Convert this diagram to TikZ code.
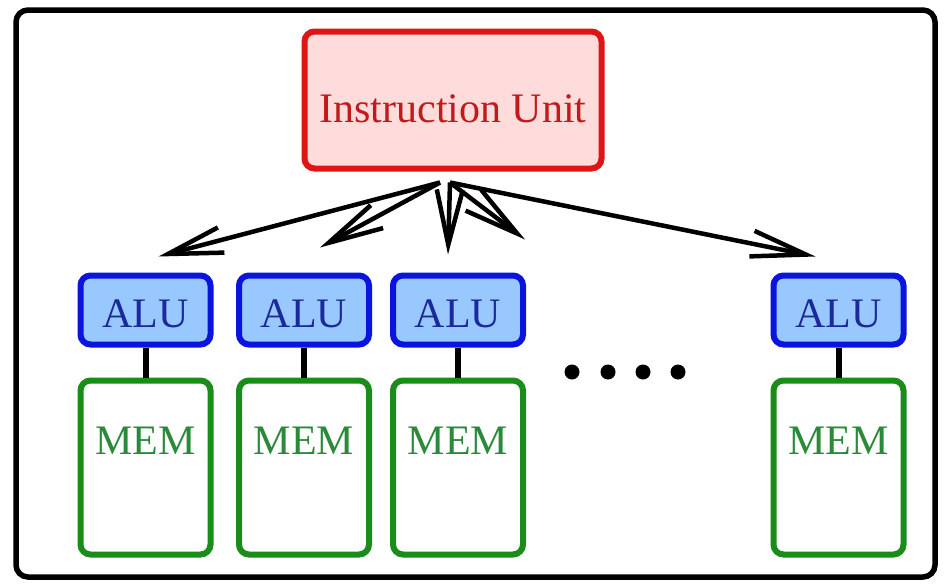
\documentclass[tikz,border=0pt]{standalone}
\usepackage{fontspec}
\setmainfont{Liberation Serif}
\usetikzlibrary{arrows.meta,calc}
\definecolor{iured}{HTML}{DD1515}
\definecolor{iufill}{HTML}{FFDCDC}
\definecolor{iutext}{HTML}{C01A1A}
\definecolor{alublue}{HTML}{0A14DC}
\definecolor{alufill}{HTML}{99C8FF}
\definecolor{alutext}{HTML}{1A2A9A}
\definecolor{memgreen}{HTML}{1A8C1A}
\definecolor{memtext}{HTML}{2A8A3A}
\begin{document}
\begin{tikzpicture}[x=1pt,y=-1pt,
  box/.style={draw, line width=6pt, rounded corners=10pt, inner sep=0pt,
    font=\fontsize{42}{42}\selectfont},
  iubox/.style={box, draw=iured, fill=iufill, text=iutext,
    minimum width=297pt, minimum height=137pt},
  alubox/.style={box, draw=alublue, fill=alufill, text=alutext,
    minimum width=130pt, minimum height=69pt},
  membox/.style={box, draw=memgreen, fill=white, text=memtext,
    minimum width=130pt, minimum height=174pt},
  link/.style={line width=6pt, black},
  bcast/.style={line width=4.5pt, black, -{Straight Barb[length=55pt,width=26pt]}},
  dot/.style={black},
]
\useasboundingbox (0,0) rectangle (946,584);
\fill[white] (0,0) rectangle (946,584);
\draw[line width=5.5pt, rounded corners=12pt] (16,10) rectangle (935,577);

\node[iubox] (iu) at (453,100) {\raisebox{-22pt}[0pt][0pt]{Instruction Unit}};

\node[alubox] (alu1) at (145.5,310) {\raisebox{-17pt}[0pt][0pt]{ALU}};
\node[alubox] (alu2) at (304,310) {\raisebox{-17pt}[0pt][0pt]{ALU}};
\node[alubox] (alu3) at (458,310) {\raisebox{-17pt}[0pt][0pt]{ALU}};
\node[alubox] (alu4) at (838.5,310) {\raisebox{-17pt}[0pt][0pt]{ALU}};

\node[membox] (mem1) at (145.5,467.5) {\raisebox{13pt}[0pt][0pt]{MEM}};
\node[membox] (mem2) at (304,467.5) {\raisebox{13pt}[0pt][0pt]{MEM}};
\node[membox] (mem3) at (458,467.5) {\raisebox{13pt}[0pt][0pt]{MEM}};
\node[membox] (mem4) at (838.5,467.5) {\raisebox{13pt}[0pt][0pt]{MEM}};

\foreach \i in {1,2,3,4}{
  \draw[link] (alu\i.south) -- (mem\i.north);
}

\coordinate (sL) at ($(iu.south)+(-13,11)$);
\coordinate (sR) at ($(iu.south)+(-3,11)$);
\coordinate (free) at ($(alu3.north)+(67,-33)$);

\draw[bcast] (sL) -- ($(alu1.north)+(13,-16)$);
\draw[bcast] (sL) -- ($(alu2.north)+(16,-25)$);
\draw[bcast] (sR) -- ($(alu3.north)+(-10,-18)$);
\draw[bcast] (sR) -- (free);
\draw[bcast] (sR) -- ($(alu4.north)+(-23,-16)$);

\foreach \x in {572,608,643,678}{
  \fill[dot] (\x,372) circle (7.5);
}
\end{tikzpicture}
\end{document}
